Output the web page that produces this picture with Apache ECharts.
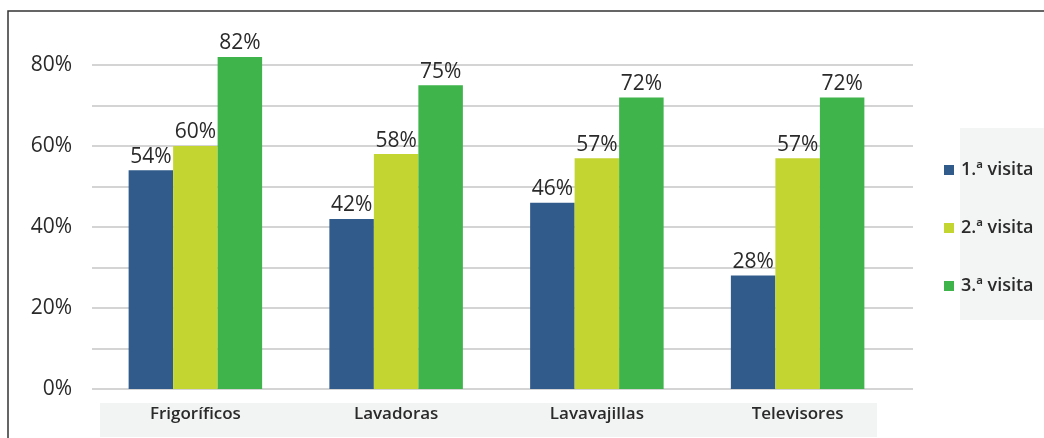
<!DOCTYPE html>
<html><head><meta charset="utf-8">
<script src="https://cdn.jsdelivr.net/npm/echarts@6/dist/echarts.min.js"></script>
<style>html,body{margin:0;padding:0;background:#fff}#c{width:1044px;height:438px}</style>
</head><body><div id="c"></div>
<script>
const categories = ['Frigoríficos', 'Lavadoras', 'Lavavajillas', 'Televisores'];
const seriesNames = ['1.ª visita', '2.ª visita', '3.ª visita'];
const visita1 = [54, 42, 46, 28];
const visita2 = [60, 58, 57, 57];
const visita3 = [82, 75, 72, 72];
const colors = ['#315b8b', '#c3d531', '#3eb44b'];
const FONT = '"Open Sans", sans-serif';

const chart = echarts.init(document.getElementById('c'));
const values = [visita1, visita2, visita3];
chart.setOption({
  animation: false,
  graphic: [
    { type: 'rect', z: -10, shape: { x: 8, y: 11, width: 1100, height: 500 }, style: { fill: '#fff', stroke: '#333', lineWidth: 1.5 } },
    { type: 'rect', z: -5, shape: { x: 100, y: 403, width: 777, height: 34 }, style: { fill: '#f2f3f3' } },
    { type: 'rect', z: -5, shape: { x: 960, y: 128, width: 84, height: 192 }, style: { fill: '#f3f4f4' } }
  ],
  legend: {
    orient: 'vertical', left: 939, top: 156, itemGap: 40,
    itemWidth: 10, itemHeight: 10, icon: 'rect',
    textStyle: { fontFamily: FONT, fontSize: 18, fontWeight: 600, color: '#2a2a2a', lineHeight: 18, padding: [0, 0, 0, 2] },
    data: seriesNames
  },
  grid: [
    { left: 92, right: 131, top: 65, bottom: 49 },
    { left: 95, width: 803, top: 65, bottom: 49 }
  ],
  xAxis: [
    { type: 'category', gridIndex: 0, data: categories, show: false },
    { type: 'category', gridIndex: 1, data: categories,
      axisLine: { show: false }, axisTick: { show: false },
      axisLabel: { margin: 17, fontFamily: FONT, fontSize: 17, fontWeight: 600, color: '#2a2a2a' } }
  ],
  yAxis: [
    { type: 'value', gridIndex: 0, min: 0, max: 80, interval: 10,
      axisLine: { show: false }, axisTick: { show: false },
      splitLine: { lineStyle: { color: '#d4d4d4', width: 2 } },
      axisLabel: { margin: 20, fontFamily: FONT, fontSize: 21, color: '#2a2a2a',
        formatter: v => (v % 20 === 0 ? v + '%' : '') } },
    { type: 'value', gridIndex: 1, min: 0, max: 80, interval: 10, show: false, splitLine: { show: false } }
  ],
  series: seriesNames.map((n, i) => ({
    type: 'bar', name: n, xAxisIndex: 1, yAxisIndex: 1, data: values[i],
    barWidth: 44.5, barGap: '0%', clip: false,
    itemStyle: { color: colors[i] },
    label: { show: true, position: 'top', distance: 3, formatter: '{c}%', fontFamily: FONT, fontSize: 21, color: '#2a2a2a' }
  }))
});
</script></body></html>
